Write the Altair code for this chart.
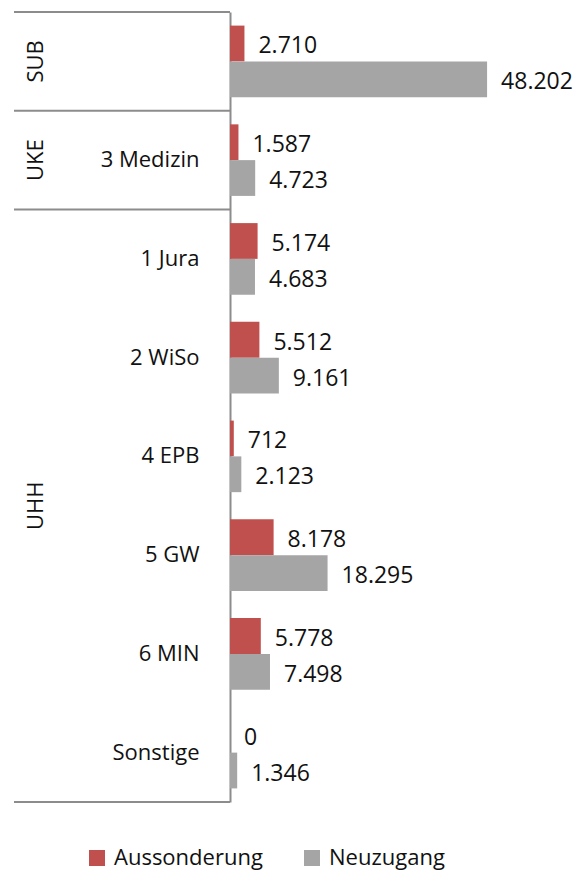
import altair as alt
import pandas as pd

rows = ["SUB", "3 Medizin", "1 Jura", "2 WiSo", "4 EPB", "5 GW", "6 MIN", "Sonstige"]
groups = ["SUB", "UKE", "UHH", "UHH", "UHH", "UHH", "UHH", "UHH"]
series = ["Aussonderung", "Neuzugang"]
aussonderung = [2710, 1587, 5174, 5512, 712, 8178, 5778, 0]
neuzugang = [48202, 4723, 4683, 9161, 2123, 18295, 7498, 1346]

# group label anchors: (group, anchor row, position in band)
group_names = ["SUB", "UKE", "UHH"]
group_anchor_rows = ["SUB", "3 Medizin", "5 GW"]
group_anchor_pos = ["mid", "mid", "top"]

recs = []
for r, g, a, n in zip(rows, groups, aussonderung, neuzugang):
    recs.append({"row": r, "group": g, "series": series[0], "value": a})
    recs.append({"row": r, "group": g, "series": series[1], "value": n})
df = pd.DataFrame(recs)

first_rows = []
seen = set()
for r, g in zip(rows, groups):
    if g not in seen:
        seen.add(g)
        first_rows.append(r)
lines_top = pd.DataFrame({"row": first_rows})
lines_bottom = pd.DataFrame({"row": [rows[-1]]})
glabels = pd.DataFrame({"group": group_names, "row": group_anchor_rows, "pos": group_anchor_pos})

FONT = "Open Sans"
FS = 22
NFS = 23
LINE = "#8c8c8c"
TXT = "#111111"

yscale = alt.Scale(domain=rows, paddingInner=0, paddingOuter=0)
y_enc = alt.Y("row:N", scale=yscale, sort=rows,
              axis=alt.Axis(title=None, ticks=False, domain=True, domainColor=LINE,
                            domainWidth=2, labelFontSize=FS, labelFont=FONT,
                            labelColor=TXT, labelPadding=31, labelLimit=300,
                            labelExpr="datum.value == 'SUB' ? '' : datum.value"))
yoff = alt.YOffset("series:N", sort=series,
                   scale=alt.Scale(domain=series, paddingInner=0, paddingOuter=0.38))
x_enc = alt.X("value:Q", scale=alt.Scale(domain=[0, 60000]), axis=None)

bars = alt.Chart(df).mark_bar().encode(
    x=x_enc, y=y_enc, yOffset=yoff,
    color=alt.Color("series:N", sort=series,
                    scale=alt.Scale(domain=series, range=["#C0504D", "#A5A5A5"]),
                    legend=alt.Legend(title=None, orient="none", direction="horizontal",
                                      legendX=-144, legendY=835, symbolType="square",
                                      symbolSize=256, symbolStrokeWidth=0,
                                      labelFontSize=FS, labelFont=FONT, labelColor=TXT,
                                      labelOffset=6, columnPadding=38, labelLimit=300)),
)

labels = alt.Chart(df).transform_calculate(
    label="replace(format(datum.value, ','), ',', '.')"
).mark_text(align="left", baseline="middle", dx=14, dy=3, fontSize=NFS, font=FONT,
            color=TXT).encode(
    x=x_enc, y=alt.Y("row:N", scale=yscale, sort=rows), yOffset=yoff, text="label:N"
)

top_rules = alt.Chart(lines_top).mark_rule(color=LINE, strokeWidth=2).encode(
    y=alt.Y("row:N", scale=yscale, sort=rows, bandPosition=0),
    x=alt.value(-216), x2=alt.value(0),
)
bottom_rules = alt.Chart(lines_bottom).mark_rule(color=LINE, strokeWidth=2).encode(
    y=alt.Y("row:N", scale=yscale, sort=rows, bandPosition=1),
    x=alt.value(-216), x2=alt.value(0),
)

g_mid = alt.Chart(glabels).transform_filter("datum.pos == 'mid'").mark_text(
    angle=270, align="center", baseline="middle", fontSize=FS, font=FONT, color=TXT
).encode(y=alt.Y("row:N", scale=yscale, sort=rows, bandPosition=0.5),
         x=alt.value(-194), text="group:N")
g_top = alt.Chart(glabels).transform_filter("datum.pos == 'top'").mark_text(
    angle=270, align="center", baseline="middle", fontSize=FS, font=FONT, color=TXT
).encode(y=alt.Y("row:N", scale=yscale, sort=rows, bandPosition=0),
         x=alt.value(-194), text="group:N")

chart = alt.layer(bars, labels, top_rules, bottom_rules, g_mid, g_top).properties(
    width=320, height=790, padding={"left": 5, "top": 3, "right": 5, "bottom": 5}
).configure_view(stroke=None)

chart.save("out.html", embed_options={"renderer": "svg", "actions": False})
